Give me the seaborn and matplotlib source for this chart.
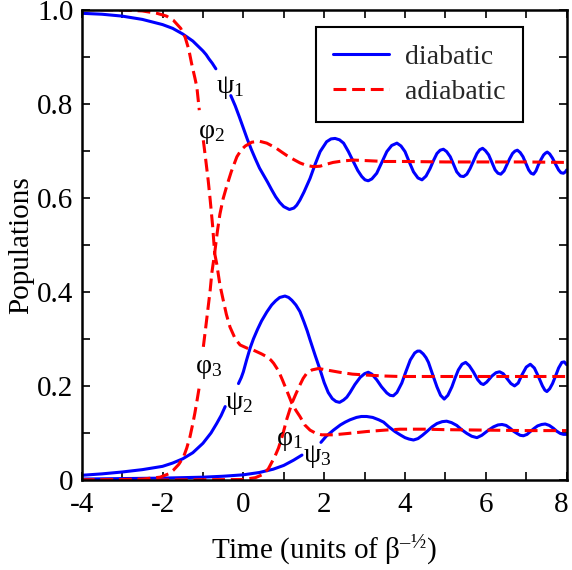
import numpy as np
import pandas as pd
import matplotlib
matplotlib.use("Agg")
import matplotlib.pyplot as plt
import matplotlib.transforms as mtrans
import seaborn as sns
from matplotlib.lines import Line2D

# ---------------- data ----------------
# psi1 (diabatic) - two segments, gap at the label
psi1_a_t = [-4.0, -3.5, -3.0, -2.5, -2.0, -1.75, -1.5, -1.25, -1.0, -0.92, -0.85, -0.77, -0.68]
psi1_a_v = [0.992, 0.990, 0.986, 0.979, 0.968, 0.960, 0.948, 0.933, 0.912, 0.904, 0.895, 0.886, 0.874]
psi1_b_t = [-0.31, -0.2, -0.1, 0.0, 0.1, 0.2, 0.3, 0.4, 0.5, 0.6, 0.7, 0.8, 0.9, 1.0, 1.14, 1.25,
            1.32, 1.40, 1.5, 1.65, 1.78, 1.90, 2.06, 2.17, 2.27, 2.38, 2.48, 2.6, 2.72, 2.83,
            2.93, 3.01, 3.09, 3.18, 3.30, 3.42, 3.55, 3.67, 3.80, 3.90, 4.00, 4.10, 4.21, 4.32,
            4.42, 4.52, 4.62, 4.71, 4.79, 4.87, 4.95, 5.03, 5.12, 5.20, 5.28, 5.37, 5.45, 5.53,
            5.61, 5.70, 5.78, 5.85, 5.92, 5.99, 6.07, 6.15, 6.23, 6.30, 6.37, 6.45, 6.52, 6.59,
            6.66, 6.72, 6.78, 6.85, 6.92, 6.99, 7.06, 7.12, 7.18, 7.24, 7.30, 7.37, 7.43, 7.48,
            7.52, 7.58, 7.65, 7.72, 7.80, 7.86, 7.92, 7.97, 8.0]
psi1_b_v = [0.817, 0.795, 0.772, 0.748, 0.724, 0.702, 0.682, 0.663, 0.648, 0.633, 0.617, 0.602,
            0.590, 0.581, 0.575, 0.578, 0.584, 0.595, 0.612, 0.641, 0.672, 0.698, 0.719, 0.725,
            0.726, 0.723, 0.716, 0.698, 0.677, 0.658, 0.645, 0.638, 0.636, 0.640, 0.652, 0.674,
            0.698, 0.711, 0.716, 0.710, 0.698, 0.677, 0.655, 0.642, 0.638, 0.646, 0.662, 0.680,
            0.694, 0.701, 0.703, 0.698, 0.687, 0.671, 0.655, 0.646, 0.645, 0.650, 0.662, 0.679,
            0.694, 0.702, 0.705, 0.700, 0.691, 0.675, 0.659, 0.652, 0.650, 0.657, 0.670, 0.683,
            0.694, 0.699, 0.701, 0.696, 0.687, 0.673, 0.659, 0.652, 0.650, 0.657, 0.670, 0.682,
            0.691, 0.695, 0.697, 0.693, 0.684, 0.672, 0.659, 0.653, 0.652, 0.655, 0.659]

# psi2 (diabatic)
psi2_a_t = [-4.0, -3.5, -3.0, -2.5, -2.0, -1.75, -1.5, -1.25, -1.0, -0.8, -0.66, -0.55, -0.45]
psi2_a_v = [0.010, 0.013, 0.017, 0.022, 0.029, 0.036, 0.045, 0.058, 0.078, 0.100, 0.120, 0.137, 0.156]
psi2_b_t = [-0.12, -0.05, 0.0, 0.08, 0.17, 0.25, 0.35, 0.45, 0.58, 0.7, 0.8, 0.9, 1.03, 1.12,
            1.2, 1.3, 1.4, 1.5, 1.58, 1.65, 1.78, 1.90, 2.0, 2.10, 2.2, 2.29, 2.38, 2.48, 2.56,
            2.64, 2.76, 2.89, 3.0, 3.09, 3.18, 3.30, 3.42, 3.55, 3.63, 3.71, 3.80, 3.92, 4.02,
            4.13, 4.24, 4.31, 4.37, 4.45, 4.52, 4.58, 4.68, 4.79, 4.88, 4.97, 5.06, 5.16, 5.24,
            5.32, 5.41, 5.50, 5.59, 5.69, 5.80, 5.88, 5.94, 6.02, 6.15, 6.25, 6.34, 6.43, 6.52,
            6.62, 6.71, 6.80, 6.89, 7.0, 7.10, 7.20, 7.30, 7.40, 7.46, 7.51, 7.58, 7.65, 7.72,
            7.80, 7.88, 7.94, 8.0]
psi2_b_v = [0.205, 0.218, 0.230, 0.255, 0.281, 0.300, 0.320, 0.338, 0.357, 0.372, 0.381, 0.388,
            0.391, 0.388, 0.382, 0.372, 0.358, 0.336, 0.317, 0.298, 0.264, 0.234, 0.207, 0.186,
            0.173, 0.167, 0.165, 0.170, 0.176, 0.186, 0.203, 0.218, 0.226, 0.229, 0.225, 0.213,
            0.198, 0.185, 0.180, 0.179, 0.186, 0.206, 0.230, 0.255, 0.270, 0.274, 0.274, 0.268,
            0.260, 0.250, 0.225, 0.198, 0.180, 0.172, 0.180, 0.198, 0.217, 0.234, 0.246, 0.250,
            0.243, 0.230, 0.213, 0.205, 0.203, 0.208, 0.221, 0.228, 0.230, 0.226, 0.216, 0.205,
            0.200, 0.206, 0.223, 0.240, 0.246, 0.238, 0.220, 0.200, 0.191, 0.188, 0.194, 0.205,
            0.220, 0.238, 0.250, 0.251, 0.245]

# psi3 (diabatic)
psi3_a_t = [-4.0, -3.0, -2.0, -1.0, -0.5, 0.0, 0.4, 0.74, 1.0, 1.24, 1.45]
psi3_a_v = [0.002, 0.003, 0.004, 0.006, 0.008, 0.011, 0.016, 0.023, 0.031, 0.042, 0.053]
psi3_b_t = [1.92, 2.05, 2.23, 2.4, 2.52, 2.64, 2.8, 2.92, 3.05, 3.2, 3.35, 3.47, 3.6, 3.75,
            3.88, 4.0, 4.1, 4.21, 4.32, 4.43, 4.54, 4.67, 4.79, 4.92, 5.03, 5.15, 5.28, 5.40,
            5.53, 5.65, 5.78, 5.90, 6.02, 6.10, 6.19, 6.30, 6.40, 6.50, 6.60, 6.68, 6.77, 6.85,
            6.93, 7.02, 7.10, 7.20, 7.28, 7.38, 7.47, 7.57, 7.67, 7.75, 7.84, 7.92, 8.0]
psi3_b_v = [0.080, 0.093, 0.106, 0.117, 0.123, 0.128, 0.133, 0.135, 0.135, 0.133, 0.128, 0.123,
            0.113, 0.103, 0.096, 0.090, 0.087, 0.085, 0.088, 0.095, 0.103, 0.113, 0.120, 0.124,
            0.125, 0.122, 0.116, 0.107, 0.099, 0.093, 0.090, 0.095, 0.103, 0.108, 0.113, 0.117,
            0.118, 0.116, 0.110, 0.104, 0.099, 0.095, 0.094, 0.097, 0.103, 0.110, 0.115, 0.118,
            0.119, 0.116, 0.110, 0.104, 0.099, 0.097, 0.097]

# phi2 (adiabatic, starts at 1)
phi2_a_t = [-4.0, -3.0, -2.5, -2.14, -1.9, -1.73, -1.55, -1.44, -1.35, -1.28, -1.2, -1.15, -1.09]
phi2_a_v = [1.000, 0.999, 0.997, 0.992, 0.986, 0.977, 0.960, 0.941, 0.915, 0.885, 0.855, 0.835, 0.786]
phi2_b_t = [-0.99, -0.93, -0.87, -0.82, -0.76, -0.71, -0.64, -0.58, -0.5, -0.41, -0.3, -0.16,
            -0.05, 0.05, 0.21, 0.4, 0.58, 0.8, 0.95, 1.07, 1.25, 1.4, 1.55, 1.73, 1.9, 2.05,
            2.22, 2.45, 2.72, 3.0, 3.5, 4.0, 5.0, 6.0, 7.0, 8.0]
phi2_b_v = [0.722, 0.680, 0.637, 0.595, 0.540, 0.482, 0.530, 0.565, 0.598, 0.625, 0.655, 0.687,
            0.702, 0.710, 0.718, 0.720, 0.716, 0.706, 0.697, 0.690, 0.681, 0.674, 0.669, 0.666,
            0.667, 0.671, 0.675, 0.678, 0.680, 0.679, 0.677, 0.677, 0.676, 0.676, 0.676, 0.675]

# phi3 (adiabatic, rises to the cusp then settles near 0.1)
phi3_a_t = [-4.0, -3.0, -2.5, -2.06, -1.85, -1.73, -1.6, -1.48, -1.4, -1.32, -1.25, -1.2, -1.14, -1.09]
phi3_a_v = [0.000, 0.001, 0.002, 0.006, 0.013, 0.021, 0.033, 0.049, 0.068, 0.092, 0.120, 0.142,
            0.172, 0.198]
phi3_b_t = [-0.99, -0.93, -0.87, -0.82, -0.78, -0.71, -0.66, -0.58, -0.5, -0.42, -0.33, -0.2,
            -0.08, 0.1, 0.25, 0.45, 0.58, 0.68, 0.75, 0.87, 0.97, 1.07, 1.2, 1.3, 1.4, 1.52,
            1.65, 1.8, 1.94, 2.23, 2.6, 3.05, 3.5, 3.88, 4.5, 5.0, 6.0, 7.0, 8.0]
phi3_b_v = [0.283, 0.325, 0.368, 0.404, 0.440, 0.482, 0.460, 0.415, 0.383, 0.352, 0.325, 0.300,
            0.287, 0.280, 0.276, 0.268, 0.262, 0.255, 0.248, 0.232, 0.212, 0.191, 0.163, 0.148,
            0.135, 0.117, 0.106, 0.099, 0.096, 0.096, 0.099, 0.103, 0.106, 0.108, 0.108, 0.107,
            0.106, 0.105, 0.105]

# phi1 (adiabatic, rises late and settles near 0.22)
phi1_t = [-4.0, -2.0, 0.0, 0.3, 0.49, 0.62, 0.78, 0.87, 0.97, 1.07, 1.2, 1.3, 1.4, 1.48, 1.57,
          1.7, 1.86, 2.05, 2.38, 2.7, 3.05, 3.5, 3.87, 4.5, 5.0, 6.0, 7.0, 8.0]
phi1_v = [0.000, 0.000, 0.001, 0.005, 0.012, 0.024, 0.050, 0.068, 0.095, 0.128, 0.163, 0.183,
          0.202, 0.216, 0.227, 0.234, 0.237, 0.234, 0.229, 0.225, 0.223, 0.221, 0.220, 0.220,
          0.220, 0.220, 0.220, 0.220]

kind_labels = ["diabatic", "adiabatic"]
x_ticks = [-4, -2, 0, 2, 4, 6, 8]
y_ticks = [0, 0.2, 0.4, 0.6, 0.8, 1.0]
y_ticklabels = ["0", "0.2", "0.4", "0.6", "0.8", "1.0"]

# curve labels: (text, t, v)
curve_labels = [
    (r"$\mathregular{\psi_1}$", -0.33, 0.834),
    (r"$\mathregular{\varphi_2}$", -0.80, 0.737),
    (r"$\mathregular{\varphi_3}$", -0.85, 0.238),
    (r"$\mathregular{\psi_2}$", -0.11, 0.162),
    (r"$\mathregular{\varphi_1}$", 1.15, 0.085),
    (r"$\mathregular{\psi_3}$", 1.82, 0.049),
]

# ---------------- build long-form table ----------------
segments = [
    ("psi1a", "diabatic", psi1_a_t, psi1_a_v),
    ("psi1b", "diabatic", psi1_b_t, psi1_b_v),
    ("psi2a", "diabatic", psi2_a_t, psi2_a_v),
    ("psi2b", "diabatic", psi2_b_t, psi2_b_v),
    ("psi3a", "diabatic", psi3_a_t, psi3_a_v),
    ("psi3b", "diabatic", psi3_b_t, psi3_b_v),
    ("phi2a", "adiabatic", phi2_a_t, phi2_a_v),
    ("phi2b", "adiabatic", phi2_b_t, phi2_b_v),
    ("phi3a", "adiabatic", phi3_a_t, phi3_a_v),
    ("phi3b", "adiabatic", phi3_b_t, phi3_b_v),
    ("phi1", "adiabatic", phi1_t, phi1_v),
]
rows = []
for seg, kind, ts, vs in segments:
    for t, v in zip(ts, vs):
        rows.append({"t": t, "v": v, "seg": seg, "kind": kind})
df = pd.DataFrame(rows)

# ---------------- style ----------------
sns.set_theme(style="ticks")
plt.rcParams["font.family"] = ["Liberation Serif", "DejaVu Serif"]
plt.rcParams["mathtext.fontset"] = "custom"
plt.rcParams["mathtext.rm"] = "Liberation Serif"
plt.rcParams["mathtext.it"] = "Liberation Serif:italic"

fig = plt.figure(figsize=(5.72, 5.70), dpi=100)
ax = fig.add_axes([0.1428, 0.1579, 0.8479, 0.8254])

LW = 2.2
sns.lineplot(data=df, x="t", y="v", hue="kind", style="kind", units="seg",
             estimator=None, sort=False, ax=ax, linewidth=LW,
             hue_order=kind_labels, style_order=kind_labels,
             palette={"diabatic": "#0000ff", "adiabatic": "#ff0000"},
             dashes={"diabatic": "", "adiabatic": (4.2, 1.9)}, legend=True)

ax.set_xlim(-4, 8)
ax.set_ylim(0, 1)
ax.set_xticks(x_ticks)
ax.set_xticklabels([str(x) for x in x_ticks])
ax.set_yticks(y_ticks)
ax.set_yticklabels(y_ticklabels)
ax.xaxis.set_minor_locator(matplotlib.ticker.MultipleLocator(1))
ax.yaxis.set_minor_locator(matplotlib.ticker.MultipleLocator(0.1))
ax.tick_params(which="both", direction="in", top=True, right=True,
               width=1.2, color="black", labelsize=21, labelcolor="black")
ax.tick_params(which="major", length=6)
ax.tick_params(which="minor", length=5.5)
ax.tick_params(axis="x", which="major", pad=9)
ax.tick_params(axis="y", which="major", pad=6)
for sp in ax.spines.values():
    sp.set_linewidth(1.8)
    sp.set_color("black")

# nudge the last x tick label ("8") slightly left so it stays inside the figure
last_lbl = ax.get_xticklabels()[-1]
last_lbl.set_transform(last_lbl.get_transform()
                       + mtrans.ScaledTranslation(-5 / 100, 0, fig.dpi_scale_trans))

ax.set_xlabel(r"Time (units of β$^{\mathregular{–½}}$)", fontsize=21, color="black", labelpad=11)
ax.set_ylabel("Populations", fontsize=21, color="black", labelpad=2)

for txt, t, v in curve_labels:
    ax.text(t, v, txt, fontsize=20, ha="center", va="center", color="black")

# legend
handles = [Line2D([], [], color="#0000ff", lw=LW),
           Line2D([], [], color="#ff0000", lw=LW, dashes=(4.2, 1.9))]
old = ax.get_legend()
if old is not None:
    old.remove()
leg = ax.legend(handles, kind_labels, loc="upper right", bbox_to_anchor=(0.910, 0.963),
                fontsize=20, frameon=True, fancybox=False, framealpha=1,
                edgecolor="black", handlelength=2.0, handletextpad=0.6,
                borderpad=0.62, labelspacing=0.35, borderaxespad=0)
leg.get_frame().set_linewidth(1.5)

fig.savefig("out.png", dpi=100)
